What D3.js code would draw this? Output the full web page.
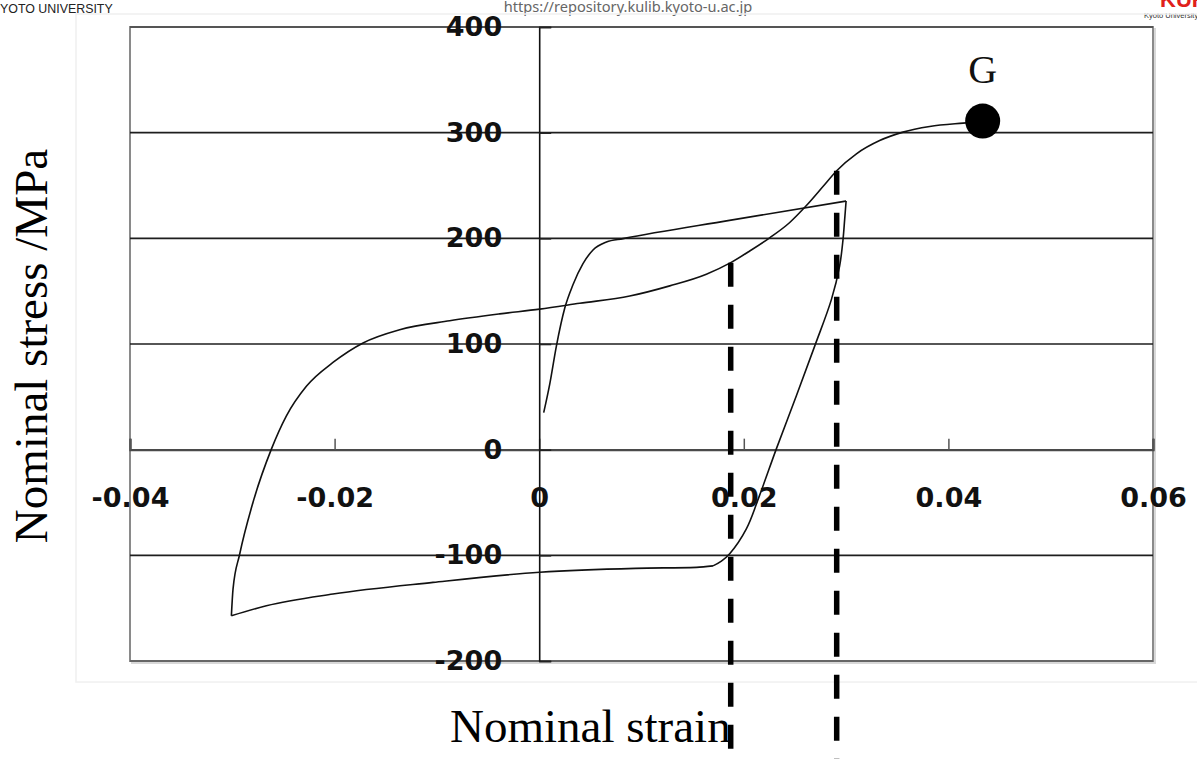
<!DOCTYPE html>
<html>
<head>
<meta charset="utf-8">
<script src="https://cdn.jsdelivr.net/npm/d3@7"></script>
<style>
  html, body { margin: 0; padding: 0; background: #fff; }
  svg { display: block; }
</style>
</head>
<body>
<svg id="chart" width="1197" height="759"></svg>
<script>
// Axis ticks and labels
const strainTicks = [-0.04, -0.02, 0, 0.02, 0.04, 0.06];
const strainTickLabels = ["-0.04", "-0.02", "0", "0.02", "0.04", "0.06"];
const stressTicks = [-200, -100, 0, 100, 200, 300, 400];
const stressTickLabels = ["-200", "-100", "0", "100", "200", "300", "400"];

// Stress-strain path, split into its branches: [nominal strain, nominal stress MPa]
const firstLoading = [
  [0.00044, 35], [0.00103, 62], [0.00168, 98], [0.0025, 134], [0.0033, 156],
  [0.00428, 176], [0.00526, 189], [0.00657, 196.5], [0.0082, 199.7],
  [0.0186, 217], [0.0300, 235.3]
];
const unloading = [
  [0.0300, 235.3], [0.02986, 218], [0.0297, 199], [0.02937, 174], [0.02856, 142],
  [0.02693, 98], [0.02514, 51], [0.02319, 1], [0.02155, -43], [0.02025, -75],
  [0.01862, -98.5], [0.01781, -105.5], [0.01699, -110]
];
const compression = [
  [0.01699, -110], [0.01537, -111.4], [0.0094, -112.3], [0.00005, -116],
  [-0.01038, -125.6], [-0.02016, -136.6], [-0.02667, -147.7], [-0.03009, -157.2]
];
const reloading = [
  [-0.03009, -157.2], [-0.02993, -132], [-0.02928, -99], [-0.02798, -50],
  [-0.02618, 0.5], [-0.02471, 32], [-0.02276, 60], [-0.02016, 82.5],
  [-0.01722, 101], [-0.01364, 113.5], [-0.00875, 122], [-0.00386, 128.5],
  [0.00005, 133], [0.00396, 138.5], [0.00885, 145.4], [0.01276, 155],
  [0.01634, 166], [0.01872, 177], [0.02058, 188], [0.02253, 200.5],
  [0.02449, 215], [0.02612, 231], [0.02774, 249], [0.02908, 264],
  [0.03101, 280], [0.03328, 292.5], [0.03556, 300.5], [0.03817, 305.8],
  [0.04143, 309], [0.04335, 310.5]
];

// Fracture point G
const fracturePoint = [0.04335, 311];
const fractureLabel = "G";

// Vertical dashed markers: strain and the stress where each meets the curve
const markerStrains = [0.01872, 0.02908];
const markerStressTops = [177, 264];

const width = 1197, height = 759;
const svg = d3.select("#chart");

const x = d3.scaleLinear().domain([-0.04, 0.06]).range([130, 1153]);
const y = d3.scaleLinear().domain([-200, 400]).range([661, 27]);

// page header
svg.append("text").attr("x", 0).attr("y", 13)
  .attr("font-family", "Liberation Sans, Arial, sans-serif").attr("font-size", 12.4)
  .attr("fill", "#222").text("YOTO UNIVERSITY");
svg.append("text").attr("x", 628).attr("y", 12).attr("text-anchor", "middle")
  .attr("font-family", "Noto Sans, sans-serif").attr("font-size", 14.6)
  .attr("fill", "#666").text("https://repository.kulib.kyoto-u.ac.jp");
svg.append("text").attr("x", 1160).attr("y", 7)
  .attr("font-family", "Liberation Sans, Arial, sans-serif").attr("font-size", 22)
  .attr("font-weight", "bold").attr("fill", "#e0201b").text("KURENAI");
svg.append("text").attr("x", 1144).attr("y", 17.5)
  .attr("font-family", "Liberation Sans, Arial, sans-serif").attr("font-size", 7.5)
  .attr("fill", "#333").text("Kyoto University");

// faint outer chart area
svg.append("rect").attr("x", 76).attr("y", 14).attr("width", 1140).attr("height", 668)
  .attr("fill", "none").attr("stroke", "#f0f0f0").attr("stroke-width", 1.5);

// plot frame with a light shadow
const [x0, x1] = x.range();
const [yb, yt] = y.range();
svg.append("rect").attr("x", x0 + 2).attr("y", yt + 2).attr("width", x1 - x0).attr("height", yb - yt)
  .attr("fill", "none").attr("stroke", "#d8d8d8").attr("stroke-width", 2);
svg.append("rect").attr("x", x0).attr("y", yt).attr("width", x1 - x0).attr("height", yb - yt)
  .attr("fill", "#fff").attr("stroke", "#8a8a8a").attr("stroke-width", 2);

// horizontal gridlines
svg.append("g").selectAll("line")
  .data(stressTicks.filter(d => d !== 0))
  .join("line")
  .attr("x1", x0).attr("x2", x1)
  .attr("y1", d => y(d)).attr("y2", d => y(d))
  .attr("stroke", d => (d === -200 ? "#666" : d === 400 ? "#555" : "#1e1e1e"))
  .attr("stroke-width", d => (d === -200 || d === 400 ? 2 : 1.6));

// x axis along stress = 0: ticks pointing up
const xAxisTicks = svg.append("g").attr("transform", `translate(0,${y(0)})`)
  .call(d3.axisTop(x).tickValues(strainTicks).tickSize(11).tickFormat(""));
xAxisTicks.select(".domain").attr("stroke", "#4a4a4a").attr("stroke-width", 2.4);
xAxisTicks.selectAll(".tick line").attr("stroke", "#555").attr("stroke-width", 1.5);

const xAxisLabels = svg.append("g").attr("transform", `translate(0,${y(0)})`)
  .call(d3.axisBottom(x).tickValues(strainTicks).tickSize(0).tickPadding(38)
    .tickFormat((d, i) => strainTickLabels[i]));
xAxisLabels.select(".domain").remove();
xAxisLabels.selectAll("text")
  .attr("font-family", "DejaVu Sans, sans-serif").attr("font-size", 27)
  .attr("font-weight", "bold").attr("fill", "#111");

// y axis at strain = 0: ticks to the right, labels to the left
const yAxisTicks = svg.append("g").attr("transform", `translate(${x(0)},0)`)
  .call(d3.axisRight(y).tickValues(stressTicks).tickSize(12).tickFormat(""));
yAxisTicks.select(".domain").attr("stroke", "#111").attr("stroke-width", 1.6);
yAxisTicks.selectAll(".tick line").attr("stroke", "#222").attr("stroke-width", 1.6);

const yAxisLabels = svg.append("g").attr("transform", `translate(${x(0)},0)`)
  .call(d3.axisLeft(y).tickValues(stressTicks).tickSize(0).tickPadding(37)
    .tickFormat((d, i) => stressTickLabels[i]));
yAxisLabels.select(".domain").remove();
yAxisLabels.selectAll("text")
  .attr("font-family", "DejaVu Sans, sans-serif").attr("font-size", 27)
  .attr("font-weight", "bold").attr("fill", "#111");

// stress-strain curve: smooth monotone branches for the loading paths,
// centripetal Catmull-Rom for the near-vertical unloading branch
const lineX = d3.line().x(d => x(d[0])).y(d => y(d[1])).curve(d3.curveMonotoneX);
const lineCR = d3.line().x(d => x(d[0])).y(d => y(d[1])).curve(d3.curveCatmullRom.alpha(0.5));
const branches = [
  { pts: firstLoading, gen: lineX },
  { pts: unloading, gen: lineCR },
  { pts: compression, gen: lineX },
  { pts: reloading, gen: lineX }
];
svg.append("g").selectAll("path")
  .data(branches)
  .join("path")
  .attr("d", d => d.gen(d.pts))
  .attr("fill", "none").attr("stroke", "#111").attr("stroke-width", 1.6)
  .attr("stroke-linejoin", "round");

// dashed vertical markers running off the bottom of the figure
const bottomStress = y.invert(height);
svg.append("g").selectAll("line")
  .data(markerStrains)
  .join("line")
  .attr("x1", d => x(d)).attr("x2", d => x(d))
  .attr("y1", (d, i) => y(markerStressTops[i])).attr("y2", y(bottomStress))
  .attr("stroke", "#000").attr("stroke-width", 5.5)
  .attr("stroke-dasharray", "24,18");

// fracture point
svg.append("circle")
  .attr("cx", x(fracturePoint[0])).attr("cy", y(fracturePoint[1])).attr("r", 17.5)
  .attr("fill", "#000");
svg.append("text")
  .attr("x", x(fracturePoint[0])).attr("y", 83).attr("text-anchor", "middle")
  .attr("font-family", "Liberation Serif, Times New Roman, serif").attr("font-size", 40)
  .attr("fill", "#111").text(fractureLabel);

// axis titles
svg.append("text").attr("x", 450).attr("y", 742)
  .attr("font-family", "Liberation Serif, Times New Roman, serif").attr("font-size", 47)
  .attr("fill", "#000").text("Nominal strain");
svg.append("text")
  .attr("transform", "translate(47,346) rotate(-90)")
  .attr("text-anchor", "middle")
  .attr("font-family", "Liberation Serif, Times New Roman, serif").attr("font-size", 47)
  .attr("fill", "#000").text("Nominal stress /MPa");
</script>
</body>
</html>
